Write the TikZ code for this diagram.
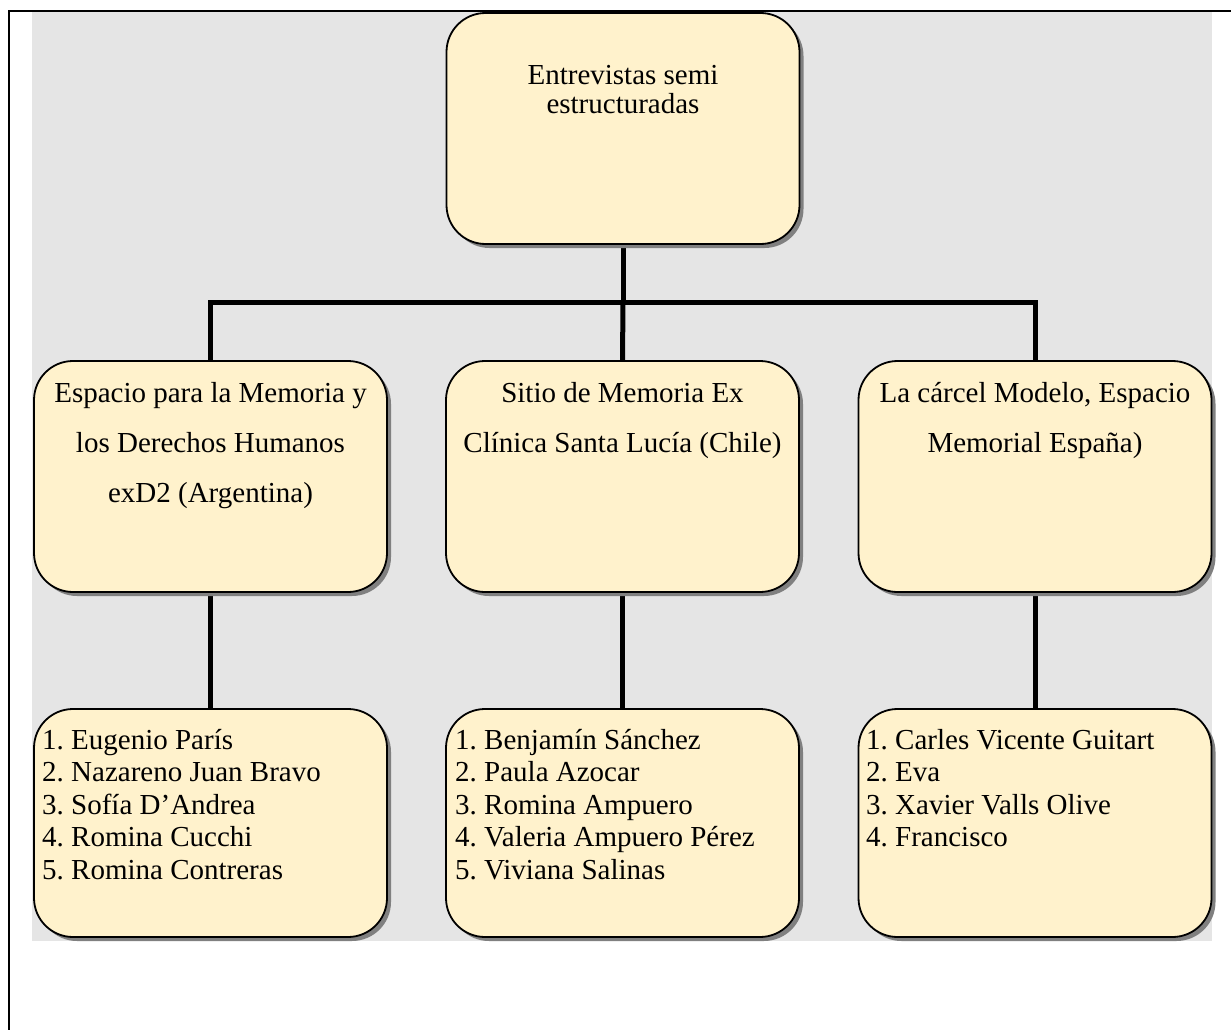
\documentclass[tikz,border=0pt]{standalone}
\usepackage{fontspec}
\setmainfont{Liberation Serif}
\usetikzlibrary{shadows}
\definecolor{boxfill}{HTML}{FFF2CC}
\definecolor{bggray}{HTML}{E5E5E5}
\definecolor{shadowgray}{HTML}{808080}
\pgfdeclarelayer{bglayer}
\pgfdeclarelayer{connlayer}
\pgfsetlayers{bglayer,connlayer,main}
\frenchspacing
\begin{document}
\begin{tikzpicture}[x=1pt,y=-1pt,
  box/.style={draw=black, line width=1.8pt, fill=boxfill, rounded corners=39pt,
    minimum width=353pt, minimum height=231pt, inner sep=0pt,
    drop shadow={shadow xshift=4pt, shadow yshift=-4pt, fill=shadowgray, opacity=1}},
  conn/.style={line width=5pt, draw=black},
  txt/.style={inner sep=0pt, font=\fontsize{29}{32.6}\selectfont},
  headtxt/.style={inner sep=0pt, anchor=base, font=\fontsize{29}{50}\selectfont},
]
\useasboundingbox (0,0) rectangle (1231,1030);

% frame and background
\begin{pgfonlayer}{bglayer}
  \fill[bggray] (32,12) rectangle (1212,941);
  \draw[line width=2.5pt, black] (9,1030) -- (9,11) -- (1231,11);
\end{pgfonlayer}

% boxes
\node[box] (top) at (623,128.5) {};
\node[box] (m1) at (210.5,476.5) {};
\node[box] (m2) at (622.5,476.5) {};
\node[box] (m3) at (1035,476.5) {};
\node[box, minimum height=228pt] (b1) at (210.5,823) {};
\node[box, minimum height=228pt] (b2) at (622.5,823) {};
\node[box, minimum height=228pt] (b3) at (1035,823) {};

% texts
\node[txt, anchor=base, font=\fontsize{29}{28.5}\selectfont] (ttop) at (623,85)
  {\begin{tabular}[t]{@{}c@{}}Entrevistas semi\\estructuradas\end{tabular}};
\node[headtxt] (tm1) at (210.5,402)
  {\begin{tabular}[t]{@{}c@{}}Espacio para la Memoria y\\los Derechos Humanos\\exD2 (Argentina)\end{tabular}};
\node[headtxt] (tm2) at (622.5,402)
  {\begin{tabular}[t]{@{}c@{}}Sitio de Memoria Ex\\Clínica Santa Lucía (Chile)\end{tabular}};
\node[headtxt] (tm3) at (1035,402)
  {\begin{tabular}[t]{@{}c@{}}La cárcel Modelo, Espacio\\Memorial España)\end{tabular}};

\node[txt, anchor=base west] (tb1) at (42,749)
  {\begin{tabular}[t]{@{}l@{}}1. Eugenio París\\2. Nazareno Juan Bravo\\3. Sofía D’Andrea\\4. Romina Cucchi\\5. Romina Contreras\end{tabular}};
\node[txt, anchor=base west] (tb2) at (455,749)
  {\begin{tabular}[t]{@{}l@{}}1. Benjamín Sánchez\\2. Paula Azocar\\3. Romina Ampuero\\4. Valeria Ampuero Pérez\\5. Viviana Salinas\end{tabular}};
\node[txt, anchor=base west] (tb3) at (866,749)
  {\begin{tabular}[t]{@{}l@{}}1. Carles Vicente Guitart\\2. Eva\\3. Xavier Valls Olive\\4. Francisco\end{tabular}};

% connectors
\coordinate (bus) at (623,302);
\begin{pgfonlayer}{connlayer}
  \draw[conn] (top.south) -- (bus);
  \draw[conn] (bus) -| (m1.north);
  \draw[conn] (bus) -| (m3.north);
  \draw[conn] (bus) -- (m2.north);
  \draw[conn] (m1.south) -- (b1.north);
  \draw[conn] (m2.south) -- (b2.north);
  \draw[conn] (m3.south) -- (b3.north);
\end{pgfonlayer}
\end{tikzpicture}
\end{document}
